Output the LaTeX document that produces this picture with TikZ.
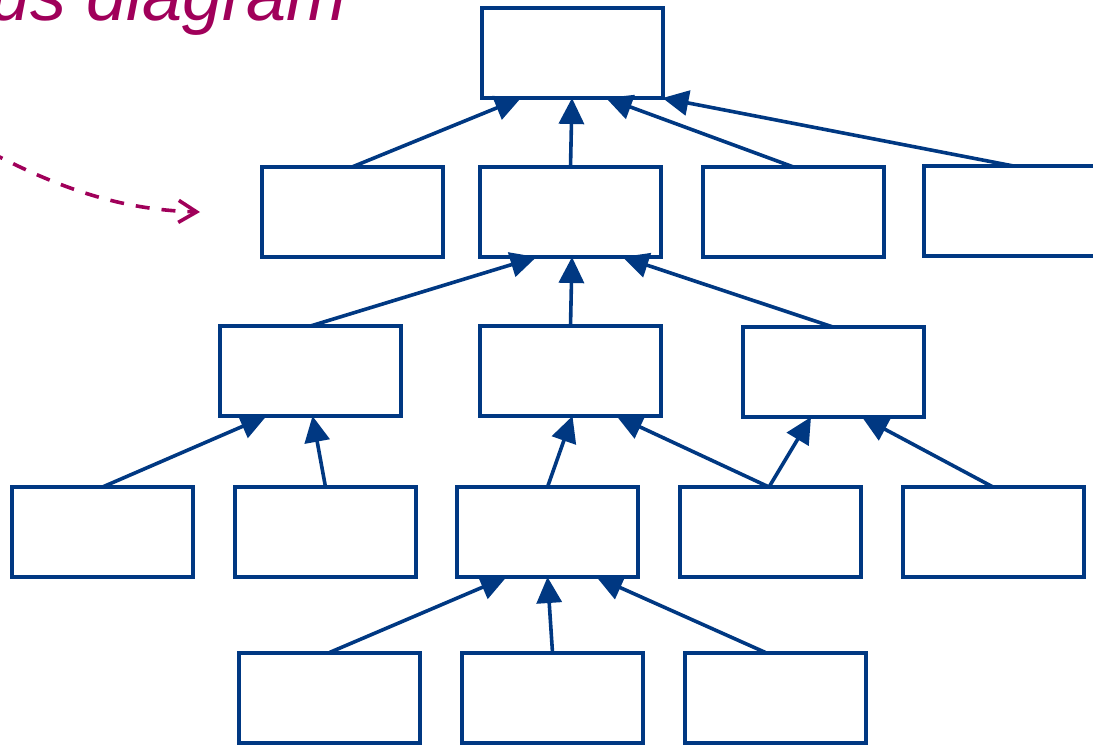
\documentclass[tikz,border=0pt]{standalone}
\usepackage{fontspec}
\setmainfont{Liberation Sans}
\usetikzlibrary{arrows.meta}
\definecolor{navy}{RGB}{0,56,130}
\definecolor{plum}{RGB}{160,0,90}
\tikzset{
  box/.style={draw=navy, line width=4pt, rectangle, minimum width=181pt,
    minimum height=90pt, inner sep=0pt, outer sep=0pt, fill=white},
  link/.style={draw=navy, line width=3.6pt,
    -{Triangle[length=26pt,width=25pt]}},
  pointer/.style={draw=plum, line width=3.6pt, dash pattern=on 14pt off 12pt,
    -{Straight Barb[length=18pt,width=22pt,line width=3.6pt]}}
}
\begin{document}
\begin{tikzpicture}[x=1pt,y=-1pt]
\useasboundingbox (0,0) rectangle (1093,745);

% title, running off the top left edge
\node[anchor=base east, font=\itshape\fontsize{72}{80}\selectfont, text=plum,
  inner sep=0pt] (title) at (347,20) {us diagram};

% dashed pointer towards the second row
\coordinate (ptrstart) at (-10,152);
\coordinate (ptrend) at (200,212);
\draw[pointer] (ptrstart) .. controls (70,194) and (130,210) .. (ptrend);

% level 0
\node[box] (a) at (572,53) {};
% level 1
\node[box] (b1) at (352,212) {};
\node[box] (b2) at (570.5,212) {};
\node[box] (b3) at (793.5,212) {};
\node[box] (b4) at (1014.5,211) {};
% level 2
\node[box] (c1) at (310.5,371) {};
\node[box] (c2) at (570.5,371) {};
\node[box] (c3) at (833,372) {};
% level 3
\node[box] (d1) at (102.5,532) {};
\node[box] (d2) at (325.5,532) {};
\node[box] (d3) at (547.5,532) {};
\node[box] (d4) at (770.5,532) {};
\node[box] (d5) at (993,532) {};
% level 4
\node[box] (e1) at (329.5,697.5) {};
\node[box] (e2) at (552.5,697.5) {};
\node[box] (e3) at (775.5,697.5) {};

% covering relations
\draw[link] (b1.north) -- ([xshift=-51pt]a.south);
\draw[link] (b2.north) -- ([xshift=0pt]a.south);
\draw[link] (b3.north) -- ([xshift=34pt]a.south);
\draw[link] ([xshift=-1pt]b4.north) -- (a.south east);

\draw[link] (c1.north) -- ([xshift=-34pt]b2.south);
\draw[link] (c2.north) -- ([xshift=1.5pt]b2.south);
\draw[link] (c3.north) -- ([xshift=52pt]b2.south);

\draw[link] (d1.north) -- ([xshift=-44pt]c1.south);
\draw[link] (d2.north) -- ([xshift=2pt]c1.south);
\draw[link] (d3.north) -- ([xshift=2pt]c2.south);
\draw[link] ([xshift=-1.5pt]d4.north) -- ([xshift=46pt]c2.south);
\draw[link] ([xshift=-1.5pt]d4.north) -- ([xshift=-22pt]c3.south);
\draw[link] (d5.north) -- ([xshift=29pt]c3.south);

\draw[link] (e1.north) -- ([xshift=-41pt]d3.south);
\draw[link] (e2.north) -- ([xshift=0pt]d3.south);
\draw[link] ([xshift=-10pt]e3.north) -- ([xshift=49pt]d3.south);
\end{tikzpicture}
\end{document}
